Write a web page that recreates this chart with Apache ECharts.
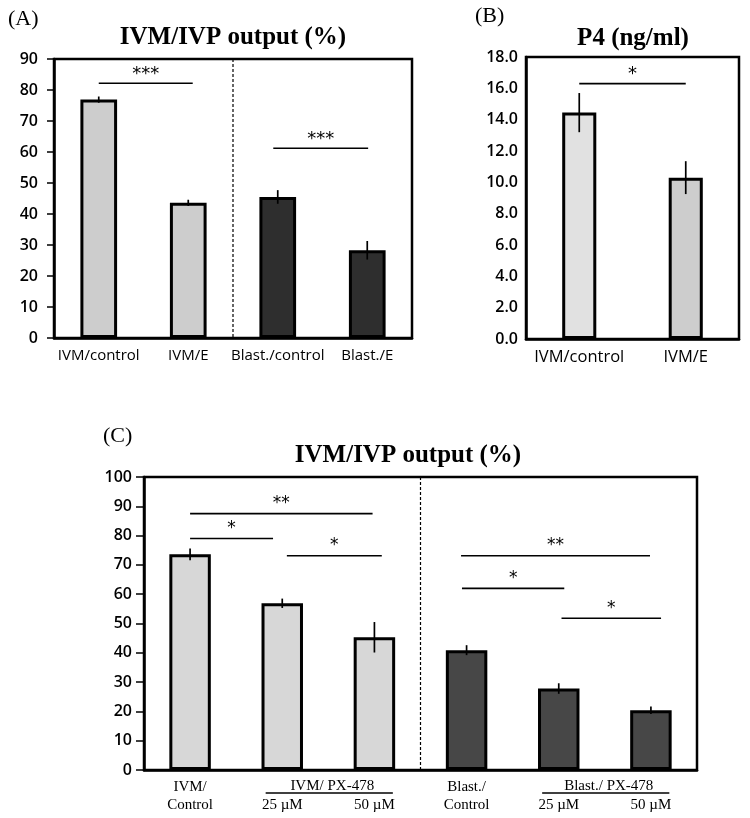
<!DOCTYPE html>
<html><head><meta charset="utf-8">
<script src="https://cdn.jsdelivr.net/npm/echarts@6/dist/echarts.min.js"></script>
<style>html,body{margin:0;padding:0;background:#fff}#c{width:750px;height:818px}</style>
</head><body><div id="c"></div>
<script>
// ---- Panel A data ----
const catsA = ['IVM/control', 'IVM/E', 'Blast./control', 'Blast./E'];
const valsA = [76.9, 43.6, 45.5, 28.3];
const errA = [1.0, 1.0, 2.2, 3.0];
const sigA = [[0, 1.05, 82.2, '***'], [1.95, 3.01, 61.2, '***']];
const dividerA = 1.5;
const yTicksA = [0, 90, 10];

// ---- Panel B data ----
const catsB = ['IVM/control', 'IVM/E'];
const valsB = [14.45, 10.3];
const errB = [1.25, 1.05];
const sigB = [[0, 1.0, 16.3, '*']];
const yTicksB = [0, 18, 2];

// ---- Panel C data ----
const catsC = ['IVM/\nControl', '25 µM', '50 µM', 'Blast./\nControl', '25 µM', '50 µM'];
const valsC = [73.6, 56.9, 45.3, 40.9, 27.8, 20.4];
const errC = [2.0, 1.6, 5.2, 1.7, 1.8, 1.3];
const sigC = [[0, 1.98, 87.5, '**'], [0, 0.90, 79.0, '*'], [1.05, 2.08, 73.1, '*'],
              [2.94, 4.99, 73.1, '**'], [2.95, 4.06, 62.0, '*'], [4.03, 5.11, 51.8, '*']];
const groupsC = [[1, 2, 'IVM/ PX-478'], [4, 5, 'Blast./ PX-478']];
const dividerC = 2.5;
const yTicksC = [0, 100, 10];

// ---- styles ----
const LIGHT_A = '#cdcdcd', DARK_A = '#2e2e2e';
const fillA = [LIGHT_A, LIGHT_A, DARK_A, DARK_A];
const fillB = ['#e1e1e1', '#cdcdcd'];
const fillC = ['#d7d7d7', '#d7d7d7', '#d7d7d7', '#474747', '#474747', '#474747'];
const SANS = '"Open Sans", sans-serif';
const SERIF = '"Liberation Serif", "Times New Roman", serif';

function txt(extra) {
  const s = Object.assign({fill: '#000'}, extra);
  if (s.align) s.textAlign = s.align;
  if (s.verticalAlign) s.textVerticalAlign = s.verticalAlign;
  return s;
}

function barSeries(idx, vals, fills, width) {
  return {
    type: 'bar', xAxisIndex: idx, yAxisIndex: idx, barWidth: width,
    data: vals.map((v, i) => ({value: v, itemStyle: {color: fills[i]}})),
    itemStyle: {borderColor: '#000', borderWidth: 3},
    silent: true, z: 2
  };
}
function errSeries(idx, vals, errs) {
  return {
    type: 'custom', xAxisIndex: idx, yAxisIndex: idx, z: 5, clip: false, silent: true,
    data: vals.map((v, i) => [i, v - errs[i], v + errs[i]]),
    renderItem: function (params, api) {
      const i = api.value(0);
      const lo = api.coord([i, api.value(1)]);
      const hi = api.coord([i, api.value(2)]);
      return {type: 'line', shape: {x1: lo[0], y1: lo[1], x2: hi[0], y2: hi[1]},
              style: {stroke: '#000', lineWidth: 1.7}};
    }
  };
}
function sigSeries(idx, list, off, font) {
  return {
    type: 'custom', xAxisIndex: idx, yAxisIndex: idx, z: 6, clip: false, silent: true,
    data: list.map(s => [0, s[2]]),
    renderItem: function (params, api) {
      const s = list[params.dataIndex];
      const p0 = api.coord([0, s[2]]);
      const band = api.coord([1, s[2]])[0] - p0[0];
      const x1 = p0[0] + s[0] * band, x2 = p0[0] + s[1] * band;
      return {type: 'group', children: [
        {type: 'line', shape: {x1: x1, y1: p0[1], x2: x2, y2: p0[1]}, style: {stroke: '#000', lineWidth: 1.6}},
        {type: 'text', x: (x1 + x2) / 2, y: p0[1] - off,
         style: txt({text: s[3], font: font, align: 'center', verticalAlign: 'middle'})}
      ]};
    }
  };
}
function dividerSeries(idx, pos) {
  return {
    type: 'custom', xAxisIndex: idx, yAxisIndex: idx, z: 4, clip: false, silent: true,
    data: [[0, 0]],
    renderItem: function (params, api) {
      const cs = params.coordSys;
      const p0 = api.coord([0, 0]);
      const band = api.coord([1, 0])[0] - p0[0];
      const x = p0[0] + pos * band;
      return {type: 'line', shape: {x1: x, y1: cs.y, x2: x, y2: cs.y + cs.height},
              style: {stroke: '#000', lineWidth: 1.2, lineDash: [3, 2]}};
    }
  };
}
function groupSeries(idx, groups) {
  return {
    type: 'custom', xAxisIndex: idx, yAxisIndex: idx, z: 6, clip: false, silent: true,
    data: groups.map(g => [0, 0]),
    renderItem: function (params, api) {
      const g = groups[params.dataIndex];
      const cs = params.coordSys;
      const p0 = api.coord([0, 0]);
      const band = api.coord([1, 0])[0] - p0[0];
      const x1 = p0[0] + (g[0] - 0.18) * band, x2 = p0[0] + (g[1] + 0.2) * band;
      const base = cs.y + cs.height;
      return {type: 'group', children: [
        {type: 'text', x: (x1 + x2) / 2 + 3, y: base + 16,
         style: txt({text: g[2], font: '15px ' + SERIF, align: 'center', verticalAlign: 'middle'})},
        {type: 'line', shape: {x1: x1, y1: base + 23, x2: x2, y2: base + 23}, style: {stroke: '#000', lineWidth: 1.4}}
      ]};
    }
  };
}

function yAxis(idx, t, opts) {
  return Object.assign({
    type: 'value', gridIndex: idx, min: t[0], max: t[1], interval: t[2],
    axisLine: {show: true, lineStyle: {color: '#000', width: 2.5}},
    axisTick: {show: true, length: 7, lineStyle: {color: '#000', width: 1.5}},
    splitLine: {show: false},
    axisLabel: {color: '#000', fontSize: 16, fontWeight: 600, fontFamily: SANS, margin: 16}
  }, opts || {});
}
function xAxis(idx, cats, opts) {
  return Object.assign({
    type: 'category', gridIndex: idx, data: cats,
    axisLine: {show: true, lineStyle: {color: '#000', width: 2.5}},
    axisTick: {show: false},
    axisLabel: {color: '#000', fontSize: 15, fontWeight: 500, fontFamily: SANS, margin: 10, interval: 0}
  }, opts || {});
}

const gridStyle = {show: true, borderColor: '#000', borderWidth: 2.5, backgroundColor: 'transparent', containLabel: false};

const chart = echarts.init(document.getElementById('c'), null, {renderer: 'canvas'});
chart.setOption({
  animation: false,
  backgroundColor: '#fff',
  grid: [
    Object.assign({left: 54, top: 59, width: 358, height: 279}, gridStyle),
    Object.assign({left: 526, top: 57, width: 213, height: 282}, gridStyle),
    Object.assign({left: 144, top: 477, width: 553, height: 293}, gridStyle)
  ],
  xAxis: [
    xAxis(0, catsA),
    xAxis(1, catsB, {axisLabel: {color: '#000', fontSize: 16.5, fontWeight: 500, fontFamily: SANS, margin: 10, interval: 0}}),
    xAxis(2, catsC, {axisLabel: {color: '#000', fontSize: 15, fontFamily: SERIF, margin: 8, interval: 0,
      lineHeight: 18,
      formatter: v => v.indexOf('\n') >= 0 ? v : ' \n' + v}})
  ],
  yAxis: [
    yAxis(0, yTicksA),
    yAxis(1, yTicksB, {axisTick: {show: false}, axisLabel: {color: '#000', fontSize: 16, fontWeight: 600, fontFamily: SANS, margin: 8,
      formatter: v => v.toFixed(1)}}),
    yAxis(2, yTicksC, {axisTick: {show: true, length: 8, lineStyle: {color: '#000', width: 1.5}},
      axisLabel: {color: '#000', fontSize: 16, fontWeight: 600, fontFamily: SANS, margin: 12}})
  ],
  graphic: [
    {type: 'text', x: 8, y: 19, style: txt({text: '(A)', font: '22px ' + SERIF, align: 'left', verticalAlign: 'middle'})},
    {type: 'text', x: 233, y: 38, style: txt({text: 'IVM/IVP output (%)', font: 'bold 25px ' + SERIF, align: 'center', verticalAlign: 'middle'})},
    {type: 'text', x: 475, y: 16, style: txt({text: '(B)', font: '22px ' + SERIF, align: 'left', verticalAlign: 'middle'})},
    {type: 'text', x: 633, y: 39, style: txt({text: 'P4 (ng/ml)', font: 'bold 25px ' + SERIF, align: 'center', verticalAlign: 'middle'})},
    {type: 'text', x: 103, y: 436, style: txt({text: '(C)', font: '22px ' + SERIF, align: 'left', verticalAlign: 'middle'})},
    {type: 'text', x: 408, y: 456, style: txt({text: 'IVM/IVP output (%)', font: 'bold 25px ' + SERIF, align: 'center', verticalAlign: 'middle'})}
  ],
  series: [
    barSeries(0, valsA, fillA, '41%'),
    errSeries(0, valsA, errA),
    sigSeries(0, sigA, 9, '18px "DejaVu Sans", sans-serif'),
    dividerSeries(0, dividerA),
    barSeries(1, valsB, fillB, '32%'),
    errSeries(1, valsB, errB),
    sigSeries(1, sigB, 9, '18px "DejaVu Sans", sans-serif'),
    barSeries(2, valsC, fillC, '45%'),
    errSeries(2, valsC, errC),
    sigSeries(2, sigC, 10, '17px "DejaVu Sans", sans-serif'),
    dividerSeries(2, dividerC),
    groupSeries(2, groupsC)
  ]
});
</script></body></html>
